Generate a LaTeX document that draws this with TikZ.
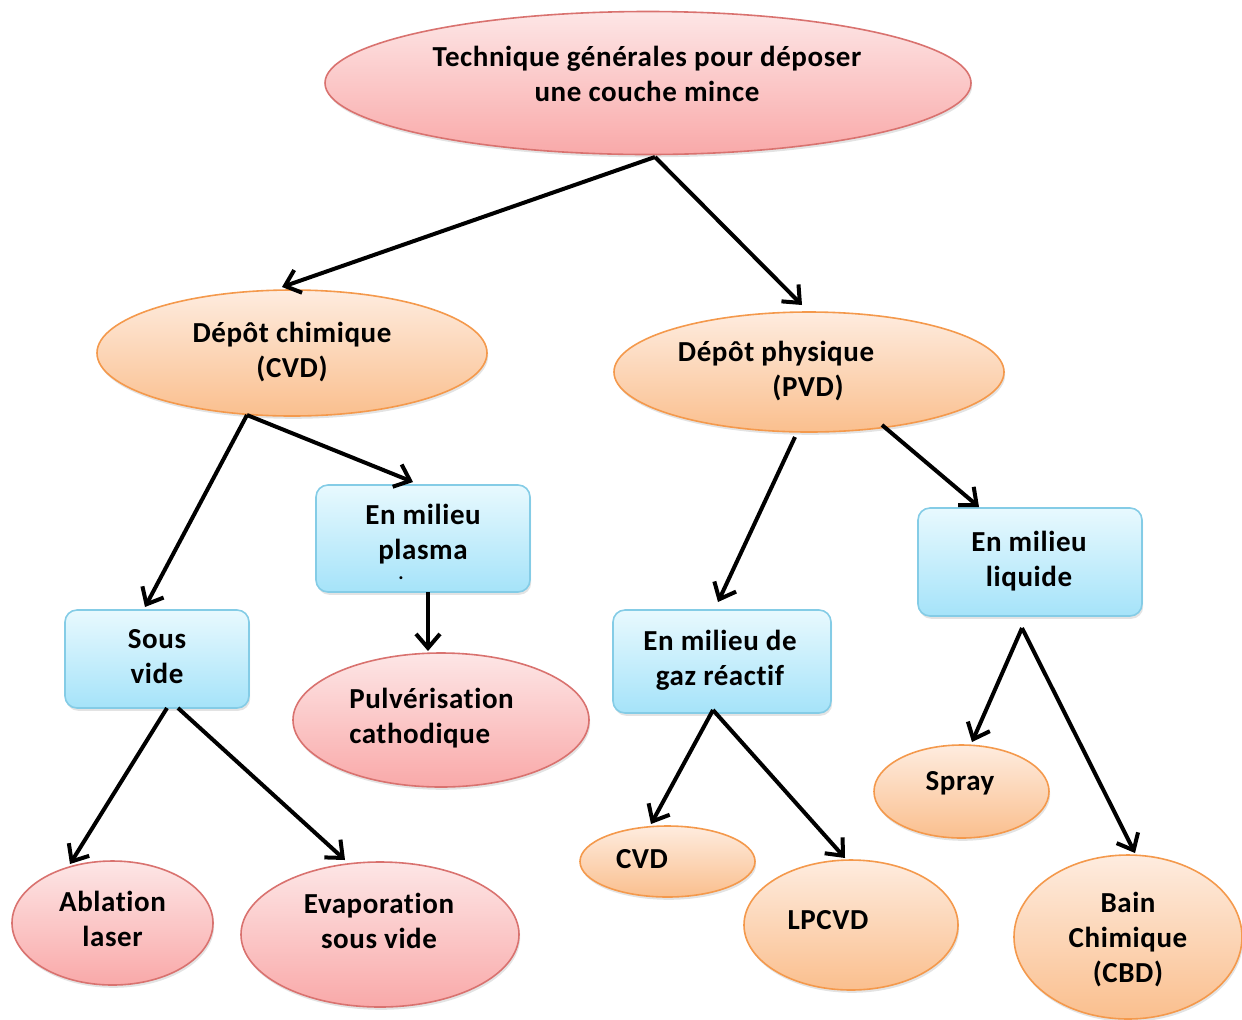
\documentclass[tikz,border=0pt]{standalone}
\usepackage{fontspec}
\setmainfont{Carlito}[Ligatures=NoCommon,LetterSpace=2]
\usetikzlibrary{shapes.geometric,arrows.meta,calc,shadows}
\definecolor{pinktop}{HTML}{FDE6E6}
\definecolor{pinkbot}{HTML}{F9A9A9}
\definecolor{pinkline}{HTML}{D9726F}
\definecolor{orgtop}{HTML}{FEECDF}
\definecolor{orgbot}{HTML}{FABF8E}
\definecolor{orgline}{HTML}{F4994C}
\definecolor{bluetop}{HTML}{E8F9FE}
\definecolor{bluebot}{HTML}{A5E3F9}
\definecolor{blueline}{HTML}{84CCE6}
% text block: #1 shift right, #2 shift up, #3 column alignment, #4 lines
\newcommand\tx[4]{%
  \setbox0=\hbox{\begin{tabular}{@{}#3@{}}#4\end{tabular}}%
  \dimen0=#1\relax
  \ifdim\dimen0>0pt \setbox0=\hbox{\kern2\dimen0\box0}\else\setbox0=\hbox{\box0\kern-2\dimen0}\fi
  \dimen0=#2\relax
  \ifdim\dimen0>0pt \dp0=\dimexpr\dp0+2\dimen0\relax\else\ht0=\dimexpr\ht0-2\dimen0\relax\fi
  \box0}
\tikzset{
  base/.style={draw, line width=0.8pt, inner sep=0pt, outer sep=0pt,
    font=\fontsize{14.5}{17.5}\selectfont\bfseries,
    drop shadow={shadow xshift=0.6pt, shadow yshift=-1.4pt, opacity=0.22}},
  pinkell/.style={base, ellipse, draw=pinkline, top color=pinktop, bottom color=pinkbot},
  orgell/.style={base, ellipse, draw=orgline, top color=orgtop, bottom color=orgbot},
  bluebox/.style={base, rectangle, rounded corners=6pt, draw=blueline, top color=bluetop, bottom color=bluebot},
  conn/.style={line width=2pt, -{Straight Barb[length=7pt,width=12pt]}},
}
\begin{document}
\begin{tikzpicture}[x=0.5pt,y=-0.5pt]
\useasboundingbox (0,0) rectangle (1242,1019);
% nodes
\node[pinkell, minimum width=323pt, minimum height=71.5pt] (root) at (648,83)
  {\tx{-0.5pt}{3.25pt}{c}{Technique générales pour déposer\\une couche mince}};
\node[orgell, minimum width=195pt, minimum height=63pt] (cvd) at (292,353)
  {\tx{0pt}{0pt}{c}{Dépôt chimique\\(CVD)}};
\node[orgell, minimum width=195pt, minimum height=60pt] (pvd) at (809,372)
  {\tx{-0.5pt}{0pt}{c}{Dépôt physique\kern32pt\\(PVD)}};
\node[bluebox, minimum width=107pt, minimum height=53.5pt] (plasma) at (423,538.5)
  {\tx{0pt}{1.75pt}{c}{En milieu\\plasma}};
\node[font=\fontsize{10}{12}\selectfont\bfseries, inner sep=0pt, anchor=base] (stray) at (401,579) {.};
\node[bluebox, minimum width=92pt, minimum height=49pt] (sous) at (157,659)
  {\tx{0pt}{0pt}{c}{Sous\\vide}};
\node[bluebox, minimum width=109pt, minimum height=51.5pt] (gaz) at (722,661.5)
  {\tx{-1pt}{0.5pt}{c}{En milieu de\\gaz réactif}};
\node[bluebox, minimum width=112pt, minimum height=54pt] (liq) at (1030,562)
  {\tx{-0.5pt}{0pt}{c}{En milieu\\liquide}};
\node[pinkell, minimum width=148pt, minimum height=67pt] (pulv) at (441,720)
  {\tx{-4.75pt}{0.75pt}{l}{Pulvérisation\\cathodique}};
\node[pinkell, minimum width=100.5pt, minimum height=62pt] (abl) at (112.5,923)
  {\tx{0pt}{0.75pt}{c}{Ablation\\laser}};
\node[pinkell, minimum width=139pt, minimum height=72.5pt] (evap) at (380,934.5)
  {\tx{-0.5pt}{5.25pt}{c}{Evaporation\\sous vide}};
\node[orgell, minimum width=87.5pt, minimum height=35.5pt] (cvdb) at (667.5,861.5)
  {\tx{-12.75pt}{0pt}{c}{CVD}};
\node[orgell, minimum width=107pt, minimum height=65pt] (lp) at (851,925)
  {\tx{-11.5pt}{1.5pt}{c}{LPCVD}};
\node[orgell, minimum width=87.5pt, minimum height=46.5pt] (spray) at (961.5,791.5)
  {\tx{-0.75pt}{4.25pt}{c}{Spray}};
\node[orgell, minimum width=114pt, minimum height=82pt] (bain) at (1128,937)
  {\tx{0pt}{-1.5pt}{c}{Bain\\Chimique\\(CBD)}};
% connectors
\draw[conn] ($(root.south)+(7,2.5)$) -- ($(cvd.north)+(-10,-3)$);
\draw[conn] ($(root.south)+(7,2.5)$) -- ($(pvd.north)+(-7,-7)$);
\draw[conn] ($(cvd.south)+(-45,-1)$) -- ($(sous.north)+(-12,-3)$);
\draw[conn] ($(cvd.south)+(-45,-1)$) -- ($(plasma.north)+(-10,-3)$);
\draw[conn] ($(plasma.south)+(5,0)$) -- ($(pulv.north)+(-13,-2)$);
\draw[conn] ($(sous.south)+(10,0)$) -- ($(abl.north)+(-42.5,3)$);
\draw[conn] ($(sous.south)+(21,0)$) -- ($(evap.north)+(-35,-2)$);
\draw[conn] ($(pvd.south)+(-14,5)$) -- ($(gaz.north)+(-4,-8)$);
\draw[conn] ($(pvd.south)+(73,-7)$) -- ($(liq.north)+(-51,-1)$);
\draw[conn] ($(gaz.south)+(-9,-3)$) -- ($(cvdb.north)+(-16.5,-2)$);
\draw[conn] ($(gaz.south)+(-9,-3)$) -- ($(lp.north)+(-6,-2)$);
\draw[conn] ($(liq.south)+(-8,12)$) -- ($(spray.north)+(10.5,-3)$);
\draw[conn] ($(liq.south)+(-8,12)$) -- ($(bain.north)+(7,-2)$);
\end{tikzpicture}
\end{document}
